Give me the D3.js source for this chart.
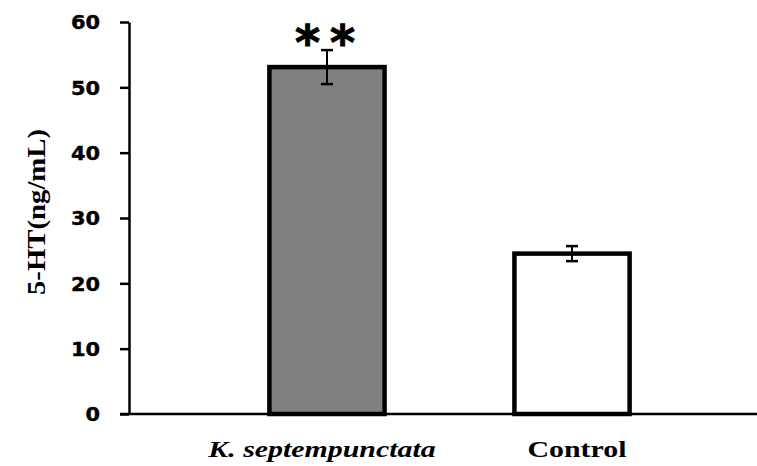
<!DOCTYPE html>
<html>
<head>
<meta charset="utf-8">
<script src="https://cdn.jsdelivr.net/npm/d3@7"></script>
<style>
  html, body { margin: 0; padding: 0; background: #fff; }
  svg { display: block; }
</style>
</head>
<body>
<svg id="chart" width="757" height="466"></svg>
<script>
const categories = ["K. septempunctata", "Control"];
const values = [53.1, 24.55];
const errors = [2.6, 1.15];
const fills = ["#808080", "#ffffff"];
const yTicks = [0, 10, 20, 30, 40, 50, 60];
const yLabel = "5-HT(ng/mL)";
const significance = ["**", ""];

const svg = d3.select("#chart");
const mLeft = 129, mRight = 770, mTop = 22, mBottom = 414;

const x = d3.scaleBand().domain(categories).range([mLeft, mRight])
  .paddingInner(0.53).paddingOuter(0.573);
const y = d3.scaleLinear().domain([0, 60]).range([mBottom, mTop]);

// Y axis
const yAxis = svg.append("g").attr("transform", `translate(${mLeft},0)`)
  .call(d3.axisLeft(y).tickValues(yTicks).tickSize(9).tickSizeOuter(0));
yAxis.select(".domain").attr("stroke", "#000").attr("stroke-width", 2.5);
yAxis.selectAll(".tick line").attr("stroke", "#000").attr("stroke-width", 2.5);
yAxis.selectAll(".tick text")
  .attr("x", null).attr("dy", "0.36em")
  .attr("transform", "translate(-29,0) scale(1.1,1)")
  .attr("text-anchor", "end")
  .attr("fill", "#000")
  .style("font-family", "'DejaVu Sans', sans-serif")
  .style("font-weight", "900")
  .style("font-size", "19px")
  .style("stroke", "#000")
  .style("stroke-width", "0.4px");

// X axis baseline
svg.append("line")
  .attr("x1", mLeft - 9).attr("x2", 757)
  .attr("y1", y(0)).attr("y2", y(0))
  .attr("stroke", "#000").attr("stroke-width", 2.5);

// Bars
const data = categories.map((c, i) => ({ c, v: values[i], e: errors[i], f: fills[i], s: significance[i] }));
svg.selectAll("rect.bar").data(data).enter().append("rect")
  .attr("class", "bar")
  .attr("x", d => x(d.c))
  .attr("y", d => y(d.v))
  .attr("width", x.bandwidth())
  .attr("height", d => y(0) - y(d.v))
  .attr("fill", d => d.f)
  .attr("stroke", "#000")
  .attr("stroke-width", 4.5);

// Error bars
const eb = svg.selectAll("g.err").data(data).enter().append("g").attr("class", "err");
eb.append("line")
  .attr("x1", d => x(d.c) + x.bandwidth() / 2).attr("x2", d => x(d.c) + x.bandwidth() / 2)
  .attr("y1", d => y(d.v + d.e)).attr("y2", d => y(d.v - d.e))
  .attr("stroke", "#000").attr("stroke-width", 2);
[1, -1].forEach(sgn => {
  eb.append("line")
    .attr("x1", d => x(d.c) + x.bandwidth() / 2 - 6).attr("x2", d => x(d.c) + x.bandwidth() / 2 + 6)
    .attr("y1", d => y(d.v + sgn * d.e)).attr("y2", d => y(d.v + sgn * d.e))
    .attr("stroke", "#000").attr("stroke-width", 2.5);
});

// Significance stars
svg.selectAll("text.sig").data(data.filter(d => d.s)).enter().append("text")
  .attr("class", "sig")
  .attr("x", d => x(d.c) + x.bandwidth() / 2 + 3)
  .attr("y", d => y(d.v + d.e) + 9)
  .attr("text-anchor", "middle")
  .style("font-family", "'DejaVu Sans', sans-serif")
  .style("font-weight", "bold")
  .style("font-size", "48px")
  .style("letter-spacing", "10px")
  .style("stroke", "#000")
  .style("stroke-width", "1px")
  .text(d => d.s);

// Category labels
svg.selectAll("text.cat").data(data).enter().append("text")
  .attr("class", "cat")
  .attr("transform", (d, i) => `translate(${x(d.c) + x.bandwidth() / 2 + (i === 0 ? -5 : 5)},457) scale(1.3,1)`)
  .attr("text-anchor", "middle")
  .style("font-family", "'Liberation Serif', 'Times New Roman', serif")
  .style("font-weight", "bold")
  .style("font-style", (d, i) => i === 0 ? "italic" : "normal")
  .style("font-size", "23px")
  .text(d => d.c);

// Y label
svg.append("text")
  .attr("transform", `translate(45,212) rotate(-90) scale(1.15,1)`)
  .attr("text-anchor", "middle")
  .style("font-family", "'Liberation Serif', 'Times New Roman', serif")
  .style("font-weight", "bold")
  .style("font-size", "25px")
  .text(yLabel);
</script>
</body>
</html>
